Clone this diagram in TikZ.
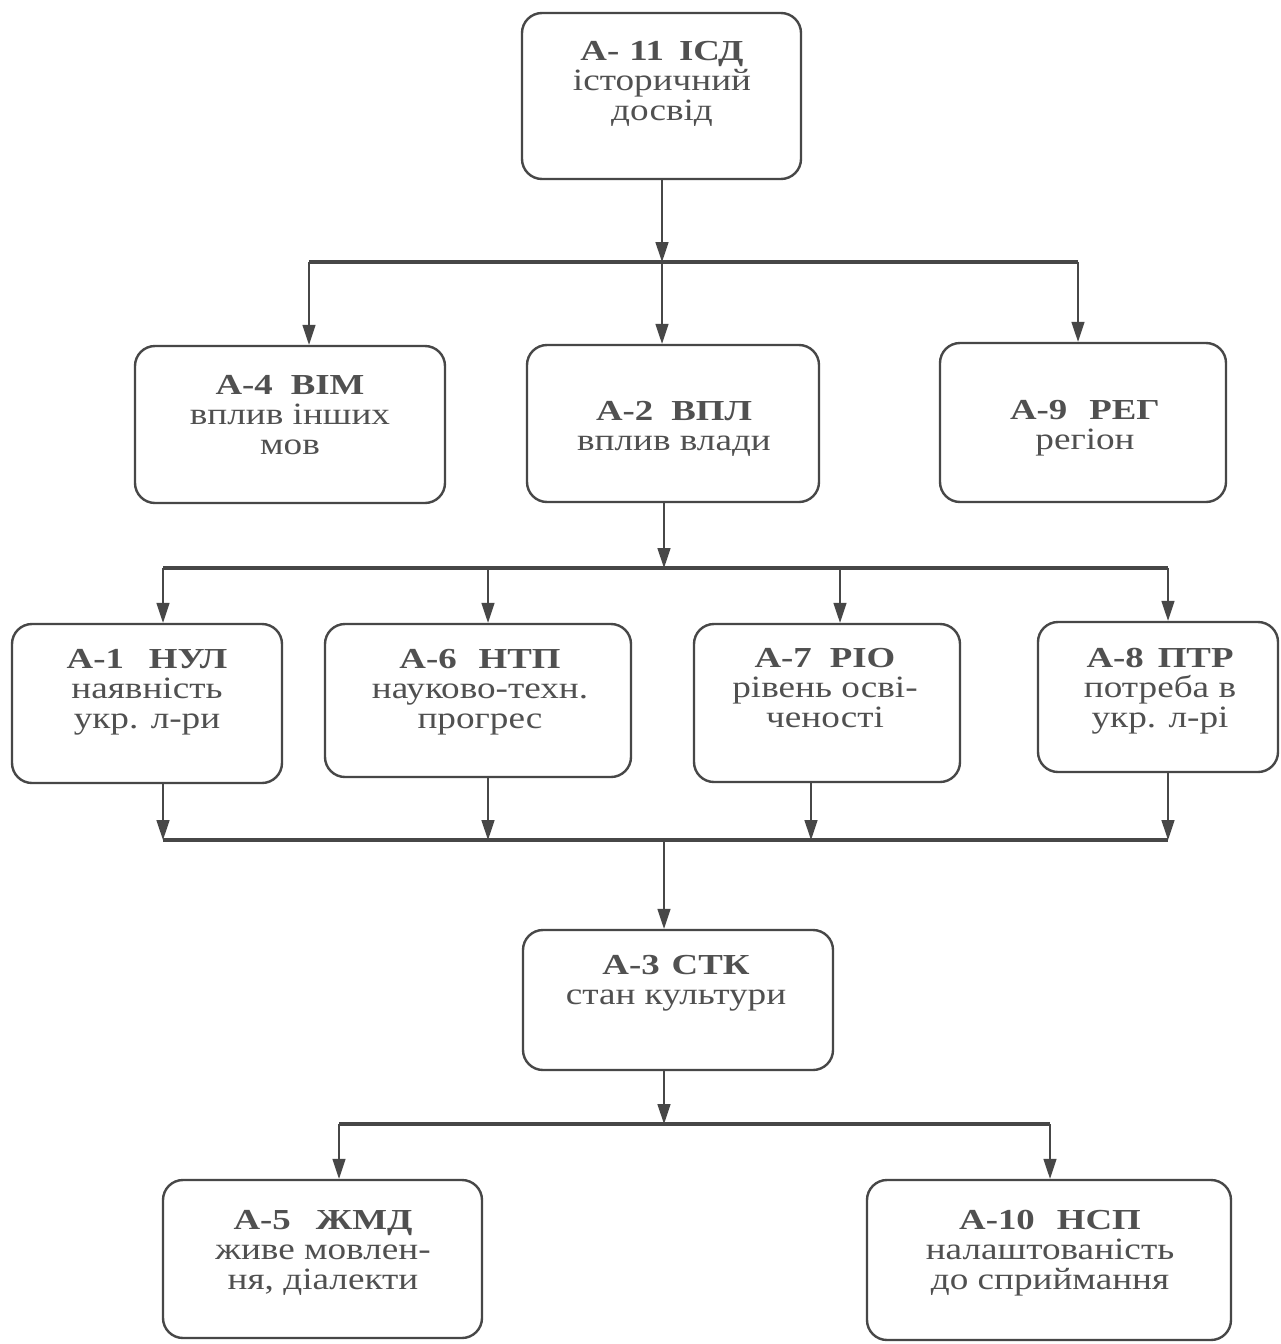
\documentclass[tikz,border=0pt]{standalone}
\usepackage{fontspec}
\setmainfont{Liberation Serif}
\newfontfamily\titf[FakeStretch=1.27]{Liberation Serif}
\newfontfamily\subf[FakeStretch=1.2]{Liberation Serif}
\usetikzlibrary{arrows.meta}
\definecolor{ink}{HTML}{474747}
\definecolor{txtc}{HTML}{505050}
\newcommand{\ttl}[3]{{\titf\bfseries\fontsize{29}{30}\selectfont #1\hspace{#3pt}#2}}
\begin{document}
\begin{tikzpicture}[x=1pt,y=-1pt,
  box/.style={draw=ink, line width=2.4pt, rounded corners=20pt, inner sep=0pt},
  lbl/.style={anchor=north, align=center, inner sep=0pt, text=txtc,
    font=\subf\fontsize{31}{30}\selectfont},
  conn/.style={draw=ink, line width=1.4pt},
  arr/.style={conn, -{Triangle[length=20pt,width=13pt]}},
  bus/.style={draw=ink, line width=3.4pt}]
\useasboundingbox[fill=white] (0,0) rectangle (1281,1344);

% boxes
\node[box, minimum width=279pt, minimum height=166pt] (a11) at (661.5,96) {};
\node[box, minimum width=310pt, minimum height=157pt] (a4) at (290,424.5) {};
\node[box, minimum width=292pt, minimum height=157pt] (a2) at (673,423.5) {};
\node[box, minimum width=286pt, minimum height=159pt] (a9) at (1083,422.5) {};
\node[box, minimum width=270pt, minimum height=159pt] (a1) at (147,703.5) {};
\node[box, minimum width=306pt, minimum height=153pt] (a6) at (478,700.5) {};
\node[box, minimum width=266pt, minimum height=158pt] (a7) at (827,703) {};
\node[box, minimum width=240pt, minimum height=150pt] (a8) at (1158,697) {};
\node[box, minimum width=310pt, minimum height=140pt] (a3) at (678,1000) {};
\node[box, minimum width=319pt, minimum height=158pt] (a5) at (322.5,1259) {};
\node[box, minimum width=364pt, minimum height=160pt] (a10) at (1049,1260) {};

% texts
\node[lbl] (t11) at (662,41) {\ttl{A-\hspace{10pt}11}{ІСД}{15}\\історичний\\досвід};
\node[lbl] (t4) at (290,375) {\ttl{A-4}{ВІМ}{18}\\вплив інших\\мов};
\node[lbl] (t2) at (674,401) {\ttl{A-2}{ВПЛ}{18}\\вплив влади};
\node[lbl] (t9) at (1085,400) {\ttl{A-9}{РЕГ}{22}\\регіон};
\node[lbl] (t1) at (147,649) {\ttl{A-1}{НУЛ}{25}\\наявність\\укр. л-ри};
\node[lbl] (t6) at (480,649) {\ttl{A-6}{НТП}{22}\\науково-техн.\\прогрес};
\node[lbl] (t7) at (825,648) {\ttl{A-7}{РІО}{18}\\рівень осві-\\ченості};
\node[lbl] (t8) at (1160,648) {\ttl{A-8}{ПТР}{14}\\потреба в\\укр. л-рі};
\node[lbl] (t3) at (676,955) {\ttl{A-3}{СТК}{12}\\стан культури};
\node[lbl] (t5) at (323,1210) {\ttl{A-5}{ЖМД}{25}\\живе мовлен-\\ня, діалекти};
\node[lbl] (t10) at (1050,1210) {\ttl{A-10}{НСП}{22}\\налаштованість\\до сприймання};

% level 1 bus
\coordinate (b1) at (662,262);
\coordinate (b1l) at (309,262);
\coordinate (b1r) at (1078,262);
\draw[bus] (b1l) -- (b1r);
\draw[arr] (a11.south -| b1) -- (b1);
\draw[arr] (b1l) -- (b1l |- a4.north);
\draw[arr] (b1) -- (b1 |- a2.north);
\draw[arr] (b1r) -- (b1r |- a9.north);

% level 2 bus
\coordinate (b2) at (664,568);
\coordinate (b2l) at (163,568);
\coordinate (b2a) at (488,568);
\coordinate (b2b) at (840,568);
\coordinate (b2r) at (1168,568);
\draw[bus] (b2l) -- (b2r);
\draw[arr] (a2.south -| b2) -- (b2);
\draw[arr] (b2l) -- (b2l |- a1.north);
\draw[arr] (b2a) -- (b2a |- a6.north);
\draw[arr] (b2b) -- (b2b |- a7.north);
\draw[arr] (b2r) -- (b2r |- a8.north);

% level 3 bus
\coordinate (b3) at (664,840);
\coordinate (b3l) at (163,840);
\coordinate (b3a) at (488,840);
\coordinate (b3b) at (811,840);
\coordinate (b3r) at (1168,840);
\draw[bus] (b3l) -- (b3r);
\draw[arr] (a1.south -| b3l) -- (b3l);
\draw[arr] (a6.south -| b3a) -- (b3a);
\draw[arr] (a7.south -| b3b) -- (b3b);
\draw[arr] (a8.south -| b3r) -- (b3r);
\draw[arr] (b3) -- (b3 |- a3.north);

% level 4 bus
\coordinate (b4) at (664,1124);
\coordinate (b4l) at (339,1124);
\coordinate (b4r) at (1050,1124);
\draw[bus] (b4l) -- (b4r);
\draw[arr] (a3.south -| b4) -- (b4);
\draw[arr] (b4l) -- (b4l |- a5.north);
\draw[arr] (b4r) -- (b4r |- a10.north);
\end{tikzpicture}
\end{document}
